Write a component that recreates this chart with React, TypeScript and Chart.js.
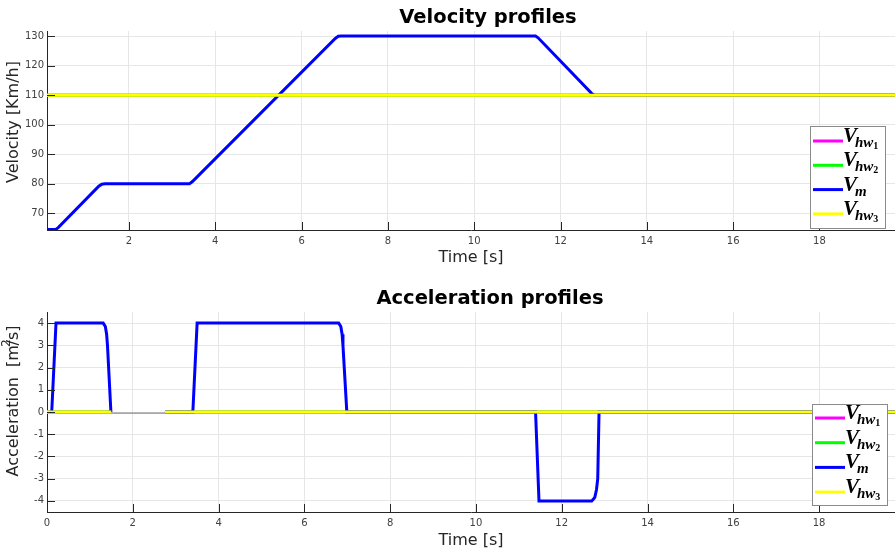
import React, { useEffect, useRef } from "react";
import { Chart, registerables } from "chart.js";

Chart.register(...registerables);
Chart.defaults.font.family = "'DejaVu Sans', sans-serif";

// ---------- Velocity profiles (time [s], km/h) ----------
const velTime = [0.1, 0.3, 0.36, 1.3, 1.37, 1.45, 3.4, 3.47, 6.78, 6.85, 6.92, 11.42, 11.48, 12.72, 12.78, 19.75];
const velVm = [64.6, 64.6, 65.2, 79.2, 79.9, 80, 80, 80.8, 129.2, 129.9, 130, 130, 129.4, 110.6, 110, 110];
const velHwTime = [0.1, 19.75];
const velHw1 = [110, 110];
const velHw2 = [110, 110];
const velHw3 = [110, 110];
const velRef = [109.6, 109.6];
const velXTicks = [2, 4, 6, 8, 10, 12, 14, 16, 18];
const velYTicks = [70, 80, 90, 100, 110, 120, 130];

// ---------- Acceleration profiles (time [s], m/s^2) ----------
const accTime = [0.11, 0.21, 1.31, 1.36, 1.39, 1.41, 1.49, 2.1, 2.75, 3.4, 3.5, 6.8, 6.85, 6.88, 6.9, 6.99, 11.39, 11.47, 12.7, 12.77, 12.81, 12.84, 12.87, 19.77];
const accVm = [0, 4, 4, 3.85, 3.5, 3, 0, null, 0, 0, 4, 4, 3.85, 3.5, 3, 0, 0, -4, -4, -3.85, -3.5, -3, 0, 0];
const accHwTime = [0, 1.5, 2.1, 2.75, 19.77];
const accHw1 = [0, 0, null, 0, 0];
const accHw2 = [0, 0, null, 0, 0];
const accHw3 = [0, 0, null, 0, 0];
const accRefTime = [0, 19.77];
const accRef = [-0.05, -0.05];
const accXTicks = [0, 2, 4, 6, 8, 10, 12, 14, 16, 18];
const accYTicks = [-4, -3, -2, -1, 0, 1, 2, 3, 4];

// ---------- Legend ----------
const legendColors = ["#ff00ff", "#00ff00", "#0000ff", "#ffff00"];
const legendMain = ["V", "V", "V", "V"];
const legendSub = ["hw", "hw", "m", "hw"];
const legendSubSub = ["1", "2", "", "3"];

const zip = (xs: number[], ys: (number | null)[]) => xs.map((x, i) => ({ x, y: ys[i] }));

const line = (label: string, xs: number[], ys: (number | null)[], color: string, width: number, order: number) => ({
  label,
  data: zip(xs, ys),
  borderColor: color,
  backgroundColor: color,
  borderWidth: width,
  pointRadius: 0,
  fill: false,
  tension: 0,
  spanGaps: false,
  order,
});

const decorPlugin = {
  id: "decor",
  afterDatasetsDraw(chart: any, _args: any, o: any) {
    const { ctx, chartArea: a, scales } = chart;
    ctx.save();
    // inside ticks
    ctx.strokeStyle = "#262626";
    ctx.lineWidth = 1;
    ctx.beginPath();
    for (const t of scales.x.ticks) {
      const px = Math.round(scales.x.getPixelForValue(t.value)) + 0.5;
      ctx.moveTo(px, a.bottom);
      ctx.lineTo(px, a.bottom - 8);
    }
    for (const t of scales.y.ticks) {
      const py = Math.round(scales.y.getPixelForValue(t.value)) + 0.5;
      ctx.moveTo(a.left, py);
      ctx.lineTo(a.left + 8, py);
    }
    ctx.stroke();

    // legend box
    const L = o.legend;
    ctx.fillStyle = "#ffffff";
    ctx.fillRect(L.x, L.y, L.w, L.h);
    ctx.strokeStyle = "#8a8a8a";
    ctx.lineWidth = 1;
    ctx.strokeRect(L.x + 0.5, L.y + 0.5, L.w, L.h);
    for (let i = 0; i < legendColors.length; i++) {
      const ry = L.y + L.first + i * L.step;
      ctx.strokeStyle = legendColors[i];
      ctx.lineWidth = 3;
      ctx.beginPath();
      ctx.moveTo(L.x + 3, ry);
      ctx.lineTo(L.x + 33, ry);
      ctx.stroke();
      ctx.fillStyle = "#000";
      ctx.textBaseline = "alphabetic";
      ctx.textAlign = "left";
      let tx = L.x + 33;
      ctx.font = "italic bold 21px 'Liberation Serif', serif";
      ctx.fillText(legendMain[i], tx, ry + 1);
      tx += ctx.measureText(legendMain[i]).width - 2;
      ctx.font = "italic bold 15px 'Liberation Serif', serif";
      ctx.fillText(legendSub[i], tx, ry + 6);
      tx += ctx.measureText(legendSub[i]).width;
      if (legendSubSub[i]) {
        ctx.font = "bold 10px 'Liberation Serif', serif";
        ctx.fillText(legendSubSub[i], tx, ry + 8);
      }
    }
    ctx.restore();
  },
  afterDraw(chart: any, _args: any, o: any) {
    const { ctx, chartArea: a } = chart;
    ctx.save();
    ctx.fillStyle = "#000";
    ctx.textAlign = "center";
    ctx.textBaseline = "alphabetic";
    ctx.font = "bold 19.5px 'DejaVu Sans', sans-serif";
    ctx.fillText(o.title, o.titleX, o.titleY);

    ctx.fillStyle = "#262626";
    ctx.font = "16px 'DejaVu Sans', sans-serif";
    ctx.textBaseline = "middle";
    ctx.fillText(o.xTitle, (a.left + a.right) / 2, o.xTitleY);

    ctx.translate(o.yTitleX, o.yTitleY);
    ctx.rotate(-Math.PI / 2);
    const parts: { t: string; size: number; dy: number; dx: number }[] = o.yTitleParts;
    let total = 0;
    for (const p of parts) {
      ctx.font = `${p.size}px 'DejaVu Sans', sans-serif`;
      total += ctx.measureText(p.t).width + p.dx;
    }
    let x = -total / 2;
    ctx.textAlign = "left";
    for (const p of parts) {
      ctx.font = `${p.size}px 'DejaVu Sans', sans-serif`;
      x += p.dx;
      ctx.fillText(p.t, x, p.dy);
      x += ctx.measureText(p.t).width;
    }
    ctx.restore();
  },
};

type PanelProps = {
  top: number;
  height: number;
  datasets: any[];
  xMin: number;
  xMax: number;
  yMin: number;
  yMax: number;
  xTicks: number[];
  yTicks: number[];
  padTop: number;
  xAxisH: number;
  decor: any;
};

function Panel(p: PanelProps) {
  const ref = useRef<HTMLCanvasElement>(null);
  useEffect(() => {
    const grid = { color: "#e6e6e6", lineWidth: 1, drawTicks: false };
    const tickFont = { family: "'DejaVu Sans', sans-serif", size: 10 };
    const chart = new Chart(ref.current as HTMLCanvasElement, {
      type: "line",
      data: { datasets: p.datasets },
      options: {
        animation: false,
        responsive: false,
        maintainAspectRatio: false,
        layout: { padding: { top: p.padTop, left: 0, right: 0, bottom: 0 } },
        plugins: {
          legend: { display: false },
          title: { display: false },
          tooltip: { enabled: false },
          decor: p.decor,
        } as any,
        scales: {
          x: {
            type: "linear",
            min: p.xMin,
            max: p.xMax,
            grid,
            border: { display: true, color: "#262626", width: 1 },
            ticks: { font: tickFont, color: "#404040", padding: 5, maxRotation: 0, autoSkip: false },
            afterBuildTicks: (s: any) => {
              s.ticks = p.xTicks.map((v) => ({ value: v }));
            },
            afterFit: (s: any) => {
              s.height = p.xAxisH;
            },
          },
          y: {
            type: "linear",
            min: p.yMin,
            max: p.yMax,
            grid,
            border: { display: true, color: "#262626", width: 1 },
            ticks: { font: tickFont, color: "#404040", padding: 3, autoSkip: false },
            afterBuildTicks: (s: any) => {
              s.ticks = p.yTicks.map((v) => ({ value: v }));
            },
            afterFit: (s: any) => {
              s.width = 47;
            },
          },
        },
      } as any,
      plugins: [decorPlugin as any],
    });
    return () => chart.destroy();
  }, []);
  return (
    <canvas
      ref={ref}
      width={895}
      height={p.height}
      style={{ position: "absolute", left: 0, top: p.top, width: 895, height: p.height, display: "block" }}
    />
  );
}

export default function App() {
  const velSets = [
    line("Vhw3", velHwTime, velHw3, "#ffff00", 3, 0),
    line("Vm", velTime, velVm, "#0000ff", 3, 1),
    line("Vhw2", velHwTime, velHw2, "#00ff00", 3, 2),
    line("Vhw1", velHwTime, velHw1, "#ff00ff", 3, 3),
    line("ref", velHwTime, velRef, "#8a8a8a", 1.2, 4),
  ];
  const accSets = [
    line("Vhw3", accHwTime, accHw3, "#ffff00", 3, 0),
    line("Vm", accTime, accVm, "#0000ff", 3, 1),
    line("Vhw2", accHwTime, accHw2, "#00ff00", 3, 2),
    line("Vhw1", accHwTime, accHw1, "#ff00ff", 3, 3),
    line("ref", accRefTime, accRef, "#8a8a8a", 1.2, 4),
  ];
  return (
    <div style={{ position: "absolute", left: 0, top: 0, width: 895, height: 553, background: "#fff" }}>
      <Panel
        top={0}
        height={280}
        datasets={velSets}
        xMin={0.1}
        xMax={19.75}
        yMin={64.4}
        yMax={131.7}
        xTicks={velXTicks}
        yTicks={velYTicks}
        padTop={31}
        xAxisH={50}
        decor={{
          title: "Velocity profiles",
          titleX: 488,
          titleY: 23,
          xTitle: "Time [s]",
          xTitleY: 258,
          yTitleX: 14,
          yTitleY: 122,
          yTitleParts: [{ t: "Velocity [Km/h]", size: 16, dy: 0, dx: 0 }],
          legend: { x: 810, y: 126, w: 75, h: 102, first: 15, step: 24.3 },
        }}
      />
      <Panel
        top={280}
        height={273}
        datasets={accSets}
        xMin={0}
        xMax={19.77}
        yMin={-4.5}
        yMax={4.5}
        xTicks={accXTicks}
        yTicks={accYTicks}
        padTop={32}
        xAxisH={41}
        decor={{
          title: "Acceleration profiles",
          titleX: 490,
          titleY: 24,
          xTitle: "Time [s]",
          xTitleY: 261,
          yTitleX: 14,
          yTitleY: 121,
          yTitleParts: [
            { t: "Acceleration  [m", size: 16, dy: 0, dx: 0 },
            { t: "2", size: 12, dy: -7, dx: -2 },
            { t: "/s]", size: 16, dy: 0, dx: -6 },
          ],
          legend: { x: 812, y: 124, w: 75, h: 101, first: 14, step: 24.7 },
        }}
      />
    </div>
  );
}
